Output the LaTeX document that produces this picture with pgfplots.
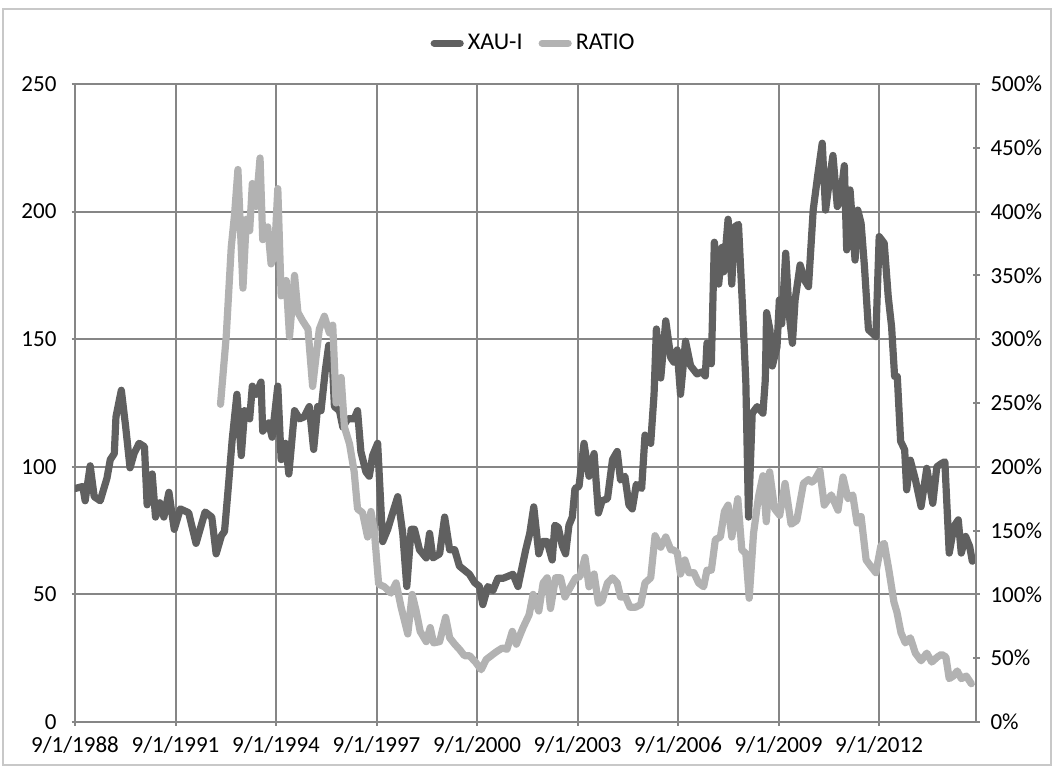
\documentclass[border=0pt]{standalone}
\usepackage{fontspec}
\setmainfont{Carlito}
\usepackage{pgfplots}
\pgfplotsset{compat=1.18}
\definecolor{xau}{RGB}{96,96,96}
\definecolor{ratio}{RGB}{178,178,178}
\definecolor{gridc}{RGB}{134,134,134}
\definecolor{framec}{RGB}{200,200,200}

\pgfplotsset{
  base/.style={
    scale only axis, width=450.5pt, height=319pt,
    at={(0,0)}, anchor=south west,
    xmin=1988.667, xmax=2015.56,
    tick align=outside, major tick length=3.5pt,
    every tick/.style={gridc, line width=1pt},
    /pgf/number format/assume math mode=true,
    tick label style={font=\fontsize{11.5pt}{14pt}\selectfont, black},
  },
  noarrows/.style={
    axis line style={gridc, line width=1pt, -},
    every outer x axis line/.append style={-},
    every outer y axis line/.append style={-},
    every inner x axis line/.append style={-},
    every inner y axis line/.append style={-},
  },
}

\begin{document}
\begin{tikzpicture}
\path[use as bounding box] (-37.5pt,-22pt) rectangle (488.5pt,361pt);
\draw[framec, line width=0.75pt] (-36pt,-21.5pt) rectangle (488pt,356.5pt);

% left axis: XAU-I
\begin{axis}[base,
  axis x line=bottom, axis y line=left, noarrows,
  ymin=0, ymax=250, ytick={0,50,100,150,200,250},
  xtick={1988.667,1991.667,1994.667,1997.667,2000.667,2003.667,2006.667,2009.667,2012.667},
  xticklabels={9/1/1988,9/1/1991,9/1/1994,9/1/1997,9/1/2000,9/1/2003,9/1/2006,9/1/2009,9/1/2012},
  xticklabel style={yshift=-2pt},
  yticklabel style={xshift=-4pt},
  grid=major, major grid style={gridc, line width=1pt},
]
\addplot[xau, line width=3.6pt, line join=round, line cap=round] coordinates {
(1988.67,91.5)(1988.9,92.3)(1988.97,86.7)(1989.12,100.4)(1989.24,88.3)(1989.42,86.7)
(1989.62,95.5)(1989.72,102.8)(1989.84,105.2)(1989.89,119.6)(1990.05,130)(1990.18,115.6)
(1990.31,99.6)(1990.43,105.2)(1990.58,109.2)(1990.74,107.9)(1990.82,85.1)(1990.97,97.2)
(1991.07,80.3)(1991.2,85.9)(1991.32,80.3)(1991.47,90)(1991.63,75.5)(1991.81,83.5)
(1992.06,82)(1992.28,70)(1992.55,82.3)(1992.75,80.3)(1992.88,65.9)(1993.04,73.1)
(1993.13,74.7)(1993.23,90)(1993.36,110.8)(1993.5,128.4)(1993.63,104.4)(1993.73,122)
(1993.88,118.8)(1993.96,131.6)(1994.07,128.4)(1994.22,133.2)(1994.27,114)(1994.45,117.2)
(1994.55,111.6)(1994.72,131.6)(1994.82,102.8)(1994.95,109.2)(1995.05,97.2)(1995.22,122)
(1995.37,118.8)(1995.51,119.6)(1995.66,123.6)(1995.79,106.8)(1995.91,123.6)(1996.01,122)
(1996.14,138)(1996.24,147.6)(1996.36,138)(1996.41,123.6)(1996.56,122)(1996.66,115.6)
(1996.81,118.8)(1997.0,118.8)(1997.1,122)(1997.2,106)(1997.35,98)(1997.45,96.3)
(1997.55,104.4)(1997.7,109.2)(1997.85,70.7)(1998.0,75.5)(1998.15,82)(1998.3,88.3)
(1998.45,73.9)(1998.57,53.1)(1998.7,75.5)(1998.8,75.5)(1998.95,67.5)(1999.15,64.3)
(1999.25,73.9)(1999.35,64.3)(1999.55,65.9)(1999.7,80.3)(1999.85,67.5)(2000.0,67.5)
(2000.14,61.1)(2000.29,59.5)(2000.44,57.9)(2000.59,54.7)(2000.74,53.1)(2000.84,46)
(2000.99,53.1)(2001.14,51.5)(2001.29,56.3)(2001.44,56.3)(2001.59,57.1)(2001.74,57.9)
(2001.89,53.1)(2002.12,67.5)(2002.24,73.9)(2002.36,84.3)(2002.51,65.9)(2002.62,70.7)
(2002.76,70.7)(2002.91,63.5)(2002.99,77.1)(2003.09,76.3)(2003.21,69.1)(2003.31,65.9)
(2003.41,77.1)(2003.51,80.3)(2003.59,91.5)(2003.71,92.3)(2003.86,109.2)(2004.01,96.3)
(2004.16,105.2)(2004.29,81.9)(2004.4,86.7)(2004.56,87.5)(2004.71,102.8)(2004.85,106)
(2004.95,94.8)(2005.08,96.3)(2005.2,85.1)(2005.3,83.5)(2005.42,93.1)(2005.58,91.5)
(2005.68,112.4)(2005.85,109.2)(2005.95,128.4)(2006.02,154)(2006.15,134.8)(2006.3,157.2)
(2006.45,142.8)(2006.54,141)(2006.64,145.8)(2006.74,128.4)(2006.89,149.2)(2007.04,139.6)
(2007.23,136.4)(2007.38,137.2)(2007.48,135.6)(2007.53,148.5)(2007.66,140.4)(2007.75,188)
(2007.88,171.6)(2007.98,186)(2008.03,176.4)(2008.16,197)(2008.27,171.6)(2008.35,194)
(2008.47,195)(2008.59,162.8)(2008.69,133)(2008.77,80.3)(2008.88,121)(2009.03,123.6)
(2009.2,121)(2009.27,134)(2009.31,160.4)(2009.41,153.6)(2009.48,139.5)(2009.62,147)
(2009.69,165.4)(2009.76,156)(2009.88,183.7)(2009.98,160.2)(2010.08,148.4)(2010.16,165.4)
(2010.31,179.1)(2010.44,173.2)(2010.56,170.6)(2010.7,200.6)(2010.83,213.7)(2010.97,226.8)
(2011.07,200.6)(2011.2,213.7)(2011.29,222)(2011.42,202)(2011.5,204)(2011.63,218)
(2011.7,185)(2011.8,208.5)(2011.95,181)(2012.03,200.6)(2012.13,195.4)(2012.23,178.5)
(2012.35,153.7)(2012.47,152.3)(2012.57,151)(2012.67,190.2)(2012.82,187.6)(2012.94,166.7)
(2013.04,154.9)(2013.13,135.4)(2013.21,135.4)(2013.31,110)(2013.43,106.7)(2013.49,91)
(2013.6,102.6)(2013.75,95)(2013.92,84.4)(2014.09,99.4)(2014.27,85.7)(2014.39,100)
(2014.53,101.3)(2014.63,102)(2014.76,66.2)(2014.9,76.6)(2015.03,79.2)(2015.12,66.2)
(2015.25,72.7)(2015.37,68.8)(2015.45,63)
};
\end{axis}

% right axis: RATIO
\begin{axis}[base,
  axis x line=none, axis y line=right, noarrows,
  ymin=0, ymax=500, ytick={0,50,...,500},
  yticklabel={\pgfmathprintnumber{\tick}\%},
  yticklabel style={xshift=2pt},
  legend columns=2,
  legend style={at={(0.51,1.064)}, anchor=center, draw=none, fill=none,
    font=\fontsize{12pt}{14pt}\selectfont,
    /tikz/every even column/.append style={column sep=6pt},
    inner sep=0pt},
  legend image code/.code={\draw[line width=3.6pt, line cap=round] (0pt,0pt) -- (13pt,0pt);},
]
\addlegendimage{xau}
\addlegendentry{XAU-I}
\addplot[ratio, line width=3.6pt, line join=round, line cap=round] coordinates {
(1993.01,249)(1993.18,302)(1993.33,372)(1993.43,398)(1993.53,433)(1993.68,340)
(1993.78,394)(1993.88,385)(1993.96,422)(1994.07,404)(1994.19,442)(1994.27,378)
(1994.42,388)(1994.52,359)(1994.62,366)(1994.72,418)(1994.82,334)(1994.97,346)
(1995.07,302)(1995.22,350)(1995.32,321)(1995.47,314)(1995.62,308)(1995.76,263)
(1995.86,286)(1995.96,308)(1996.11,318)(1996.26,305)(1996.36,311)(1996.46,250)
(1996.61,270)(1996.71,231)(1996.86,218)(1997.0,196)(1997.1,167)(1997.25,164)
(1997.4,145)(1997.5,165)(1997.6,150)(1997.73,108)(1997.9,106)(1998.1,101)
(1998.25,109)(1998.4,90)(1998.6,69)(1998.73,100)(1998.85,87)(1998.97,71)
(1999.15,63)(1999.27,74)(1999.37,62)(1999.55,63)(1999.73,82)(1999.85,66)
(2000.0,61)(2000.14,57)(2000.29,52)(2000.44,52)(2000.62,47)(2000.79,41)
(2000.94,49)(2001.09,52)(2001.24,55)(2001.42,58)(2001.56,57)(2001.72,71)
(2001.84,61)(2002.04,74)(2002.22,84)(2002.34,100)(2002.51,87)(2002.64,109)
(2002.76,113)(2002.86,89)(2003.01,113)(2003.16,113)(2003.29,98)(2003.46,106)
(2003.61,113)(2003.74,114)(2003.89,129)(2004.01,106)(2004.16,116)(2004.29,93)
(2004.4,95)(2004.56,109)(2004.71,113)(2004.85,109)(2004.95,98)(2005.1,98)
(2005.23,90)(2005.4,90)(2005.55,92)(2005.68,109)(2005.85,113)(2005.98,146)
(2006.15,137)(2006.3,145)(2006.45,135)(2006.51,135)(2006.64,133)(2006.74,116)
(2006.87,127)(2006.99,117)(2007.14,117)(2007.28,109)(2007.43,106)(2007.53,119)
(2007.66,119)(2007.78,143)(2007.93,145)(2008.05,165)(2008.16,170)(2008.27,145)
(2008.45,175)(2008.57,135)(2008.69,132)(2008.79,97)(2008.92,148)(2009.07,177)
(2009.2,193)(2009.3,157)(2009.4,196)(2009.55,167)(2009.7,162)(2009.86,187)
(2010.04,155)(2010.21,158)(2010.41,187)(2010.56,190)(2010.66,188)(2010.75,190)
(2010.9,197)(2011.03,170)(2011.24,178)(2011.44,166)(2011.59,192)(2011.74,175)
(2011.88,178)(2012.01,156)(2012.13,161)(2012.28,127)(2012.42,122)(2012.57,117)
(2012.72,138)(2012.82,140)(2012.96,119)(2013.11,94)(2013.2,86)(2013.32,70)
(2013.45,62)(2013.6,66)(2013.75,54)(2013.92,48)(2014.09,54)(2014.24,47)
(2014.41,51)(2014.53,53)(2014.66,51)(2014.76,34)(2014.88,36)(2015.0,40)
(2015.12,34)(2015.27,36)(2015.42,30)
};
\addlegendentry{RATIO}
\end{axis}
\end{tikzpicture}
\end{document}
